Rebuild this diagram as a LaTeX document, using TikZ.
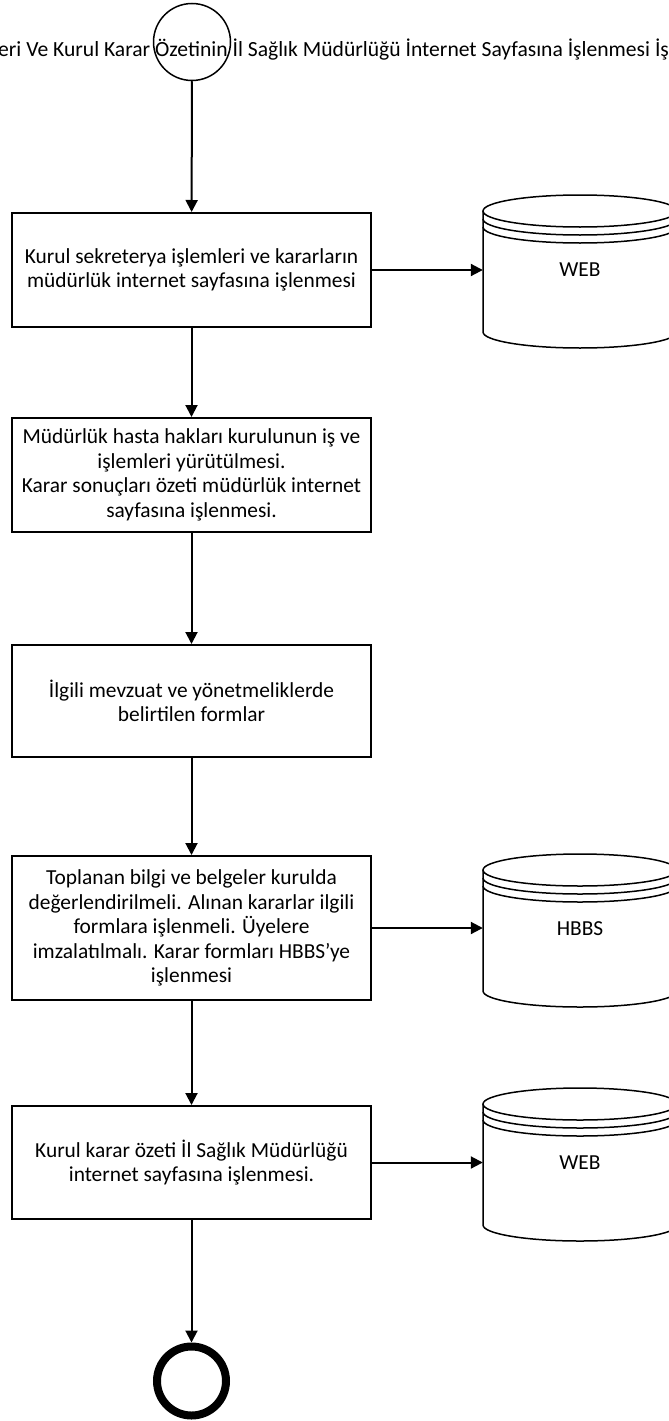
\documentclass[tikz,border=0pt]{standalone}
\usepackage{fontspec}
\setmainfont{Carlito}
\usetikzlibrary{arrows.meta,positioning}

% left x, top y, label, name
\newcommand{\datastore}[4]{%
  \draw[line width=1.5pt] (#1+97,#2+16) ellipse [x radius=97pt, y radius=16pt];
  \draw[line width=1.5pt] (#1,#2+24) arc [start angle=180, end angle=360, x radius=97pt, y radius=16pt];
  \draw[line width=1.5pt] (#1,#2+32) arc [start angle=180, end angle=360, x radius=97pt, y radius=16pt];
  \draw[line width=1.5pt] (#1,#2+16) -- (#1,#2+137)
    arc [start angle=180, end angle=360, x radius=97pt, y radius=16pt] -- (#1+194,#2+16);
  \node[store] (#4) at (#1+97,#2+75) {#3};
}

\tikzset{
  task/.style={rectangle, draw=black, line width=2pt, minimum width=359pt,
    minimum height=114pt, align=center, inner sep=0pt,
    font=\fontsize{21.4}{24.5}\selectfont},
  store/.style={rectangle, minimum width=194pt, minimum height=20pt,
    inner sep=0pt, font=\fontsize{21.4}{24.5}\selectfont},
  flow/.style={-{Triangle[length=12pt,width=12pt]}, line width=2pt},
}

\begin{document}
\begin{tikzpicture}[x=1pt,y=-1pt]
\useasboundingbox (0,0) rectangle (669,1421);
\clip (0,0) rectangle (669,1421);

\node[draw, circle, line width=1.5pt, minimum size=77pt] (start) at (192,42) {};
\node[anchor=west, inner sep=0pt, font=\fontsize{21.6}{24.5}\selectfont] (title) at (-2,50)
  {eri Ve Kurul Karar Özetinin İl Sağlık Müdürlüğü İnternet Sayfasına İşlenmesi İş};

\node[task] (b1) at (191.5,270)
  {Kurul sekreterya işlemleri ve kararların\\müdürlük internet sayfasına işlenmesi};
\node[task] (b2) at (191.5,475)
  {Müdürlük hasta hakları kurulunun iş ve\\işlemleri yürütülmesi.\\Karar sonuçları özeti müdürlük internet\\sayfasına işlenmesi.};
\node[task, minimum height=112pt] (b3) at (191.5,701)
  {İlgili mevzuat ve yönetmeliklerde\\belirtilen formlar};
\node[task, minimum height=144pt] (b4) at (191.5,928)
  {Toplanan bilgi ve belgeler kurulda\\değerlendirilmeli. Alınan kararlar ilgili\\formlara işlenmeli. Üyelere\\imzalatılmalı. Karar formları HBBS’ye\\işlenmesi};
\node[task, minimum height=113pt] (b5) at (191.5,1162.5)
  {Kurul karar özeti İl Sağlık Müdürlüğü\\internet sayfasına işlenmesi.};

\node[draw, circle, line width=8pt, minimum size=69pt] (end) at (191.5,1381) {};

\datastore{483}{195}{WEB}{web1}
\datastore{483}{854}{HBBS}{hbbs}
\datastore{483}{1088}{WEB}{web2}

\draw[flow] (start) -- (b1);
\draw[flow] (b1) -- (b2);
\draw[flow] (b2) -- (b3);
\draw[flow] (b3) -- (b4);
\draw[flow] (b4) -- (b5);
\draw[flow] (b5) -- (end);

\draw[flow] (b1.east) -- (b1.east -| web1.west);
\draw[flow] (b4.east) -- (b4.east -| hbbs.west);
\draw[flow] (b5.east) -- (b5.east -| web2.west);
\end{tikzpicture}
\end{document}
